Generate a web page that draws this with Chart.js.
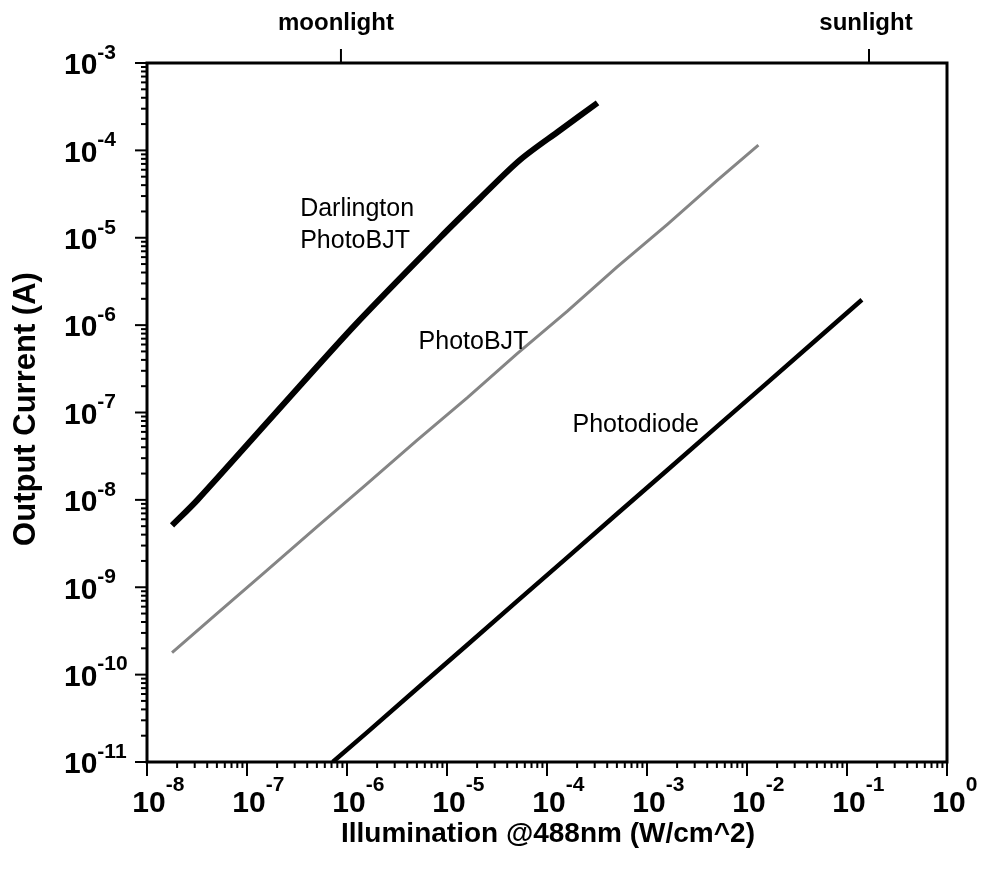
<!DOCTYPE html>
<html>
<head>
<meta charset="utf-8">
<script src="https://cdn.jsdelivr.net/npm/chart.js@4.4.1/dist/chart.umd.min.js"></script>
<style>
  html, body { margin: 0; padding: 0; background: #fff; }
  #wrap { width: 982px; height: 875px; }
</style>
</head>
<body>
<div id="wrap"><canvas id="photo-chart" width="982" height="875"></canvas></div>
<script>
// Values (illumination W/cm^2, output current A)
const darlingtonX = [1.78e-8, 3.2e-8, 1.95e-7, 1.2e-6, 8.5e-6, 2.15e-5, 5.4e-5, 1.35e-4, 3.2e-4];
const darlingtonY = [5.1e-9, 1.0e-8, 1.0e-7, 1.0e-6, 1.0e-5, 2.85e-5, 7.8e-5, 1.7e-4, 3.5e-4];

const photoBjtX = [1.78e-8, 5.0e-8, 1.5e-7, 5.0e-7, 1.5e-6, 5.0e-6, 1.6e-5, 5.0e-5, 1.6e-4, 5.0e-4, 1.6e-3, 5.0e-3, 1.3e-2];
const photoBjtY = [1.78e-10, 5.0e-10, 1.48e-9, 4.9e-9, 1.45e-8, 4.8e-8, 1.48e-7, 4.7e-7, 1.45e-6, 4.6e-6, 1.42e-5, 4.5e-5, 1.15e-4];

const photodiodeX = [7.2e-7, 1.6e-6, 5.0e-6, 1.6e-5, 5.0e-5, 1.6e-4, 5.0e-4, 1.6e-3, 5.0e-3, 1.6e-2, 5.0e-2, 0.141];
const photodiodeY = [1.0e-11, 2.2e-11, 6.9e-11, 2.2e-10, 6.9e-10, 2.2e-9, 6.9e-9, 2.2e-8, 6.9e-8, 2.2e-7, 6.9e-7, 1.95e-6];

const xDecades = [-8, -7, -6, -5, -4, -3, -2, -1, 0];
const yDecades = [-3, -4, -5, -6, -7, -8, -9, -10, -11];

const markerLabels = ['moonlight', 'sunlight'];
const markerValues = [8.7e-7, 0.166];

const curveLabels = [
    { text: ['Darlington', 'PhotoBJT'], x: 3.4e-7, y: 2.1e-5 },
    { text: ['PhotoBJT'], x: 5.2e-6, y: 6.4e-7 },
    { text: ['Photodiode'], x: 1.8e-4, y: 7.2e-8 },
];

const toPoints = (xs, ys) => xs.map((x, i) => ({ x, y: ys[i] }));
const FONT = '"Liberation Sans", Arial, sans-serif';

// Frame, ticks, tick labels, titles and annotations
const axesPlugin = {
    id: 'axesDecor',
    afterDraw(chart) {
        const { ctx, chartArea: a, scales } = chart;
        const sx = scales.x, sy = scales.y;
        ctx.save();
        ctx.strokeStyle = '#000';
        ctx.fillStyle = '#000';

        // frame
        ctx.lineWidth = 3;
        ctx.strokeRect(a.left, a.top, a.right - a.left, a.bottom - a.top);

        // y ticks (outside, left)
        ctx.lineWidth = 2;
        yDecades.forEach(d => {
            for (let m = 1; m <= 9; m++) {
                const v = m * Math.pow(10, d);
                if (v > 1e-3 * 1.0001 || v < 1e-11 * 0.9999) continue;
                const py = sy.getPixelForValue(v);
                const len = m === 1 ? 12 : 6;
                ctx.beginPath();
                ctx.moveTo(a.left, py);
                ctx.lineTo(a.left - len, py);
                ctx.stroke();
            }
        });

        // x ticks (outside, below)
        xDecades.forEach(d => {
            for (let m = 1; m <= 9; m++) {
                const v = m * Math.pow(10, d);
                if (v > 1.0001) continue;
                const px = sx.getPixelForValue(v);
                const len = m === 1 ? 14 : 6;
                ctx.beginPath();
                ctx.moveTo(px, a.bottom);
                ctx.lineTo(px, a.bottom + len);
                ctx.stroke();
            }
        });

        // y tick labels
        ctx.textBaseline = 'middle';
        ctx.textAlign = 'left';
        yDecades.forEach(d => {
            const py = sy.getPixelForValue(Math.pow(10, d));
            ctx.font = 'bold 30px ' + FONT;
            ctx.fillText('10', 64, py + 3);
            const w = ctx.measureText('10').width;
            ctx.font = 'bold 21px ' + FONT;
            ctx.fillText(String(d), 64 + w, py - 10);
        });

        // x tick labels
        xDecades.forEach(d => {
            const px = sx.getPixelForValue(Math.pow(10, d));
            ctx.font = 'bold 30px ' + FONT;
            ctx.textAlign = 'center';
            ctx.fillText('10', px + 2, a.bottom + 42);
            const w = ctx.measureText('10').width;
            ctx.font = 'bold 21px ' + FONT;
            ctx.textAlign = 'left';
            ctx.fillText(String(d), px + 2 + w / 2, a.bottom + 23);
        });

        // axis titles
        ctx.font = 'bold 28px ' + FONT;
        ctx.textAlign = 'center';
        ctx.fillText('Illumination @488nm (W/cm^2)', (a.left + a.right) / 2 + 1, 834);
        ctx.save();
        ctx.translate(26, 409);
        ctx.rotate(-Math.PI / 2);
        ctx.font = 'bold 31px ' + FONT;
        ctx.fillText('Output Current (A)', 0, 0);
        ctx.restore();

        // moonlight / sunlight markers on the top edge
        ctx.lineWidth = 2;
        markerValues.forEach((v, i) => {
            const px = sx.getPixelForValue(v);
            ctx.beginPath();
            ctx.moveTo(px, a.top);
            ctx.lineTo(px, a.top - 14);
            ctx.stroke();
            ctx.font = 'bold 24px ' + FONT;
            ctx.textAlign = 'center';
            ctx.fillText(markerLabels[i], px - 5 + i * 2, 23);
        });

        // curve annotations
        ctx.font = '25px ' + FONT;
        ctx.textAlign = 'left';
        curveLabels.forEach(l => {
            const px = sx.getPixelForValue(l.x);
            const py = sy.getPixelForValue(l.y);
            l.text.forEach((t, i) => ctx.fillText(t, px, py + i * 32));
        });
        ctx.restore();
    },
};

new Chart(document.getElementById('photo-chart'), {
    type: 'scatter',
    data: {
        datasets: [
            {
                label: 'Darlington PhotoBJT',
                data: toPoints(darlingtonX, darlingtonY),
                borderColor: '#000',
                borderWidth: 6,
                showLine: true,
                pointRadius: 0,
                tension: 0.3,
            },
            {
                label: 'PhotoBJT',
                data: toPoints(photoBjtX, photoBjtY),
                borderColor: '#858585',
                borderWidth: 3,
                showLine: true,
                pointRadius: 0,
                tension: 0,
            },
            {
                label: 'Photodiode',
                data: toPoints(photodiodeX, photodiodeY),
                borderColor: '#000',
                borderWidth: 4.5,
                showLine: true,
                pointRadius: 0,
                tension: 0,
            },
        ],
    },
    options: {
        responsive: false,
        animation: false,
        layout: { padding: { left: 147, top: 63, right: 35, bottom: 113 } },
        plugins: { legend: { display: false }, tooltip: { enabled: false } },
        scales: {
            x: { type: 'logarithmic', min: 1e-8, max: 1, display: false },
            y: { type: 'logarithmic', min: 1e-11, max: 1e-3, display: false },
        },
    },
    plugins: [axesPlugin],
});
</script>
</body>
</html>
